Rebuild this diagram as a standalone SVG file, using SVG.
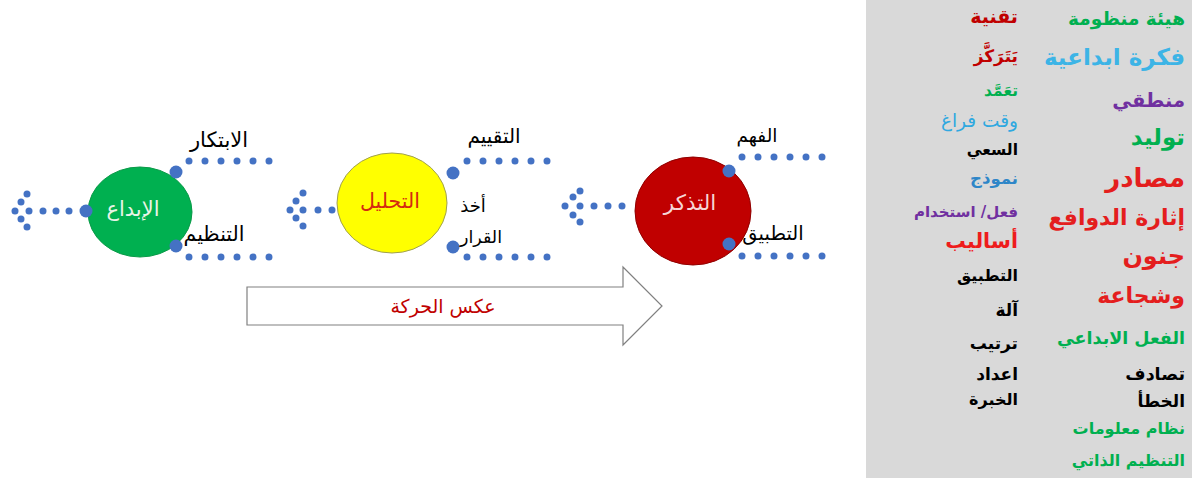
<svg xmlns="http://www.w3.org/2000/svg" width="1192" height="478" viewBox="0 0 1192 478">
<style>
text{font-family:"DejaVu Sans","Noto Sans",sans-serif}
.lbl{fill:#000;text-anchor:middle}
.node{text-anchor:middle}
.dl{stroke:#4472c4;stroke-width:7;stroke-linecap:round;stroke-dasharray:0 16;fill:none}
.d{fill:#4472c4}
.p{fill:#4472c4}
.r{text-anchor:end;font-weight:bold}
</style>
<rect x="0" y="0" width="1192" height="478" fill="#ffffff"/>
<g id="legend">
<rect x="866" y="0" width="326" height="478" fill="#d9d9d9"/>
<text class="r" x="1018" y="23" font-size="19" fill="#c00000">تقنية</text>
<text class="r" x="1018" y="62" font-size="17" fill="#c00000">يَتَرَكَّز</text>
<text class="r" x="1018" y="96" font-size="15.5" fill="#00b050">تعَمَّد</text>
<text x="1018" y="127" font-size="18.5" fill="#2fa8e0" text-anchor="end">وقت فراغ</text>
<text class="r" x="1018" y="155" font-size="15.5" fill="#000">السعي</text>
<text class="r" x="1018" y="184" font-size="16.5" fill="#2e86c8">نموذج</text>
<text class="r" x="1018" y="217" font-size="15" fill="#7030a0">فعل/ استخدام</text>
<text class="r" x="1018" y="248" font-size="20.5" fill="#ee1c1c">أساليب</text>
<text class="r" x="1018" y="281" font-size="16" fill="#000">التطبيق</text>
<text class="r" x="1018" y="316" font-size="17" fill="#000">آلة</text>
<text class="r" x="1018" y="349" font-size="17" fill="#000">ترتيب</text>
<text class="r" x="1018" y="380" font-size="17" fill="#000">اعداد</text>
<text class="r" x="1018" y="405" font-size="16" fill="#000">الخبرة</text>

<text class="r" x="1185" y="25" font-size="18.5" fill="#00b050">هيئة منظومة</text>
<text class="r" x="1185" y="65" font-size="23" fill="#3cb4e6">فكرة ابداعية</text>
<text class="r" x="1185" y="107" font-size="19.5" fill="#7030a0">منطقي</text>
<text class="r" x="1185" y="145" font-size="23" fill="#00b050">توليد</text>
<text class="r" x="1185" y="187" font-size="26" fill="#e41e1e">مصادر</text>
<text class="r" x="1185" y="225" font-size="22" fill="#e41e1e">إثارة الدوافع</text>
<text class="r" x="1185" y="264" font-size="24" fill="#e41e1e">جنون</text>
<text class="r" x="1185" y="303" font-size="22" fill="#e41e1e">وشجاعة</text>
<text class="r" x="1185" y="344" font-size="17.5" fill="#00b050">الفعل الابداعي</text>
<text class="r" x="1185" y="380" font-size="17.5" fill="#000">تصادف</text>
<text class="r" x="1185" y="407" font-size="17" fill="#000">الخطأ</text>
<text class="r" x="1185" y="434" font-size="16" fill="#00b050">نظام معلومات</text>
<text class="r" x="1185" y="466" font-size="16" fill="#00b050">التنظيم الذاتي</text>
</g>

<g id="connectors">
<!-- green node -->
<line class="dl" x1="189" y1="161" x2="270" y2="161"/>
<line class="dl" x1="189" y1="257" x2="270" y2="257"/>
<circle class="d" cx="15" cy="211" r="3.5"/><circle class="d" cx="29" cy="211" r="3.5"/>
<circle class="d" cx="43" cy="211" r="3.5"/><circle class="d" cx="56" cy="211" r="3.5"/>
<circle class="d" cx="69" cy="211" r="3.5"/>
<circle class="d" cx="27" cy="194" r="3.5"/><circle class="d" cx="21" cy="202" r="3.5"/>
<circle class="d" cx="21" cy="219" r="3.5"/><circle class="d" cx="27" cy="227" r="3.5"/>
<!-- yellow node -->
<line class="dl" x1="467" y1="161" x2="548" y2="161"/>
<line class="dl" x1="467" y1="257" x2="548" y2="257"/>
<circle class="d" cx="290" cy="210" r="3.5"/><circle class="d" cx="303" cy="210" r="3.5"/>
<circle class="d" cx="318" cy="210" r="3.5"/><circle class="d" cx="332" cy="210" r="3.5"/>
<circle class="d" cx="303" cy="193" r="3.5"/><circle class="d" cx="296" cy="201" r="3.5"/>
<circle class="d" cx="296" cy="218" r="3.5"/><circle class="d" cx="303" cy="226" r="3.5"/>
<!-- red node -->
<line class="dl" x1="742" y1="157" x2="824" y2="157"/>
<line class="dl" x1="742" y1="256" x2="824" y2="256"/>
<circle class="d" cx="565" cy="206" r="3.5"/><circle class="d" cx="580" cy="206" r="3.5"/>
<circle class="d" cx="594" cy="206" r="3.5"/><circle class="d" cx="608" cy="206" r="3.5"/>
<circle class="d" cx="622" cy="206" r="3.5"/>
<circle class="d" cx="580" cy="191" r="3.5"/><circle class="d" cx="573" cy="197" r="3.5"/>
<circle class="d" cx="573" cy="215" r="3.5"/><circle class="d" cx="580" cy="222" r="3.5"/>
<!-- hollow arrow -->
<polygon points="247,287 623,287 623,267 662,306 623,345 623,325 247,325" fill="#ffffff" stroke="#808080" stroke-width="1.2"/>
<text x="443" y="313" font-size="19" fill="#c00000" text-anchor="middle">عكس الحركة</text>
</g>

<g id="node-ibdaa">
<ellipse cx="140" cy="212" rx="52" ry="45" fill="#00b050" stroke="#0a9a48" stroke-width="1"/>
<text class="node" x="133" y="216" font-size="21" fill="#e8f4e8">الإبداع</text>
<circle class="p" cx="86" cy="211" r="6.5"/>
<circle class="p" cx="176" cy="172" r="6.5"/>
<circle class="p" cx="176" cy="246" r="6.5"/>
<text class="lbl" x="219" y="147" font-size="21">الابتكار</text>
<text class="lbl" x="214" y="241" font-size="20.5">التنظيم</text>
</g>

<g id="node-tahleel">
<ellipse cx="392" cy="203" rx="55" ry="50" fill="#ffff00" stroke="#a0a050" stroke-width="1"/>
<text class="node" x="390" y="208" font-size="20.5" fill="#d42a10">التحليل</text>
<circle class="p" cx="453" cy="173" r="6.5"/>
<circle class="p" cx="453" cy="247" r="6.5"/>
<text class="lbl" x="494" y="143" font-size="20">التقييم</text>
<text class="lbl" x="473" y="212" font-size="18">أخذ</text>
<text class="lbl" x="481" y="243" font-size="17.5">القرار</text>
</g>

<g id="node-tathakor">
<ellipse cx="693" cy="211" rx="58" ry="54" fill="#c00000" stroke="#900000" stroke-width="1"/>
<text class="node" x="690" y="210" font-size="21.5" fill="#f6d6d6">التذكر</text>
<circle class="p" cx="729" cy="171" r="6.5"/>
<circle class="p" cx="729" cy="244" r="6.5"/>
<text class="lbl" x="757" y="142" font-size="18.5">الفهم</text>
<text class="lbl" x="773" y="240" font-size="19.5">التطبيق</text>
</g>
</svg>
